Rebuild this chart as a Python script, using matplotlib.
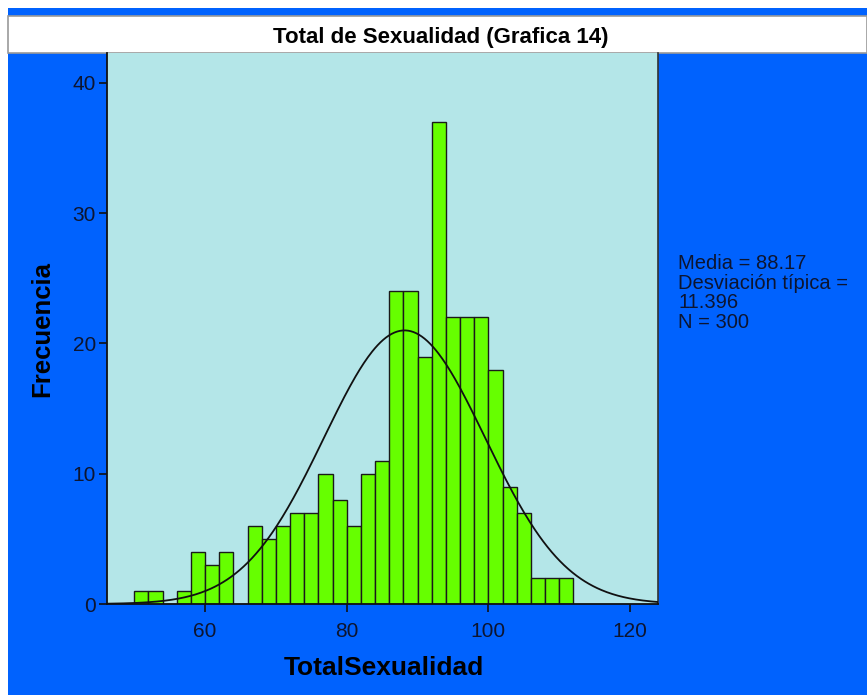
import numpy as np
import matplotlib
matplotlib.use("Agg")
import matplotlib.pyplot as plt
from matplotlib.patches import Rectangle

# Data
bin_edges = [50, 52, 54, 56, 58, 60, 62, 64, 66, 68, 70, 72, 74, 76, 78, 80, 82, 84,
             86, 88, 90, 92, 94, 96, 98, 100, 102, 104, 106, 108, 110, 112]
counts = [1, 1, 0, 1, 4, 3, 4, 0, 6, 5, 6, 7, 7, 10, 8, 6, 10, 11,
          24, 24, 19, 37, 22, 22, 22, 18, 9, 7, 2, 2, 2]
mean = 88.17
std = 11.396
n_total = 300
x_ticks = [60, 80, 100, 120]
y_ticks = [0, 10, 20, 30, 40]

title = "Total de Sexualidad (Grafica 14)"
xlabel = "TotalSexualidad"
ylabel = "Frecuencia"
stats_text = "Media = 88.17\nDesviación típica =\n11.396\nN = 300"

BLUE = "#0062FE"
PLOT_BG = "#B4E6E8"
GREEN = "#66FF00"

plt.rcParams['font.family'] = ['Liberation Sans', 'DejaVu Sans']

W, H = 867, 695
fig = plt.figure(figsize=(W / 100, H / 100), dpi=100)
fig.patch.set_facecolor("white")

# blue background (left white strip, top white strip)
fig.patches.append(Rectangle((8 / W, 0), 1 - 8 / W, 1 - 8 / H, transform=fig.transFigure,
                             facecolor=BLUE, edgecolor="none", zorder=-10))
# title box
fig.patches.append(Rectangle((8 / W, 1 - 53 / H), 1 - 8 / W, 37 / H, transform=fig.transFigure,
                             facecolor="white", edgecolor="#9a9a9a", linewidth=1.2, zorder=-5))
fig.text(441 / W, 1 - 38 / H, title, ha="center", va="center", fontsize=16,
         fontweight="bold", color="black")

ax = fig.add_axes([107 / W, (H - 604) / H, (658 - 107) / W, (604 - 53) / H])
ax.set_facecolor(PLOT_BG)

widths = np.diff(bin_edges)
ax.bar(bin_edges[:-1], counts, width=widths, align="edge", color=GREEN,
       edgecolor="#1a1a1a", linewidth=1.0, zorder=2)

xs = np.linspace(46.16, 123.95, 400)
bw = 2
ys = n_total * bw / (std * np.sqrt(2 * np.pi)) * np.exp(-0.5 * ((xs - mean) / std) ** 2)
ax.plot(xs, ys, color="#111111", linewidth=1.3, zorder=3)

ax.set_xlim(46.16, 123.95)
ax.set_ylim(0, 42.3)
ax.set_xticks(x_ticks)
ax.set_yticks(y_ticks)
ax.tick_params(axis="both", direction="out", length=6, width=1.2, color="#111111",
               labelsize=15, labelcolor="#0d1530")
ax.tick_params(axis="x", pad=7)
ax.tick_params(axis="y", pad=2)

for s in ["left", "bottom"]:
    ax.spines[s].set_color("#111111")
    ax.spines[s].set_linewidth(1.3)
ax.spines["right"].set_color("#333333")
ax.spines["right"].set_linewidth(1.2)
ax.spines["top"].set_visible(False)

fig.text(384 / W, 1 - 668 / H, xlabel, ha="center", va="center", fontsize=19,
         fontweight="bold", color="black")
fig.text(42 / W, 1 - 329 / H, ylabel, ha="center", va="center", fontsize=18.5,
         fontweight="bold", color="black", rotation=90)

fig.text(678 / W, 1 - 254 / H, stats_text, ha="left", va="top", fontsize=14.5,
         color="#0d1530", linespacing=1.05)

fig.savefig("out.png", dpi=100, facecolor=fig.get_facecolor())
